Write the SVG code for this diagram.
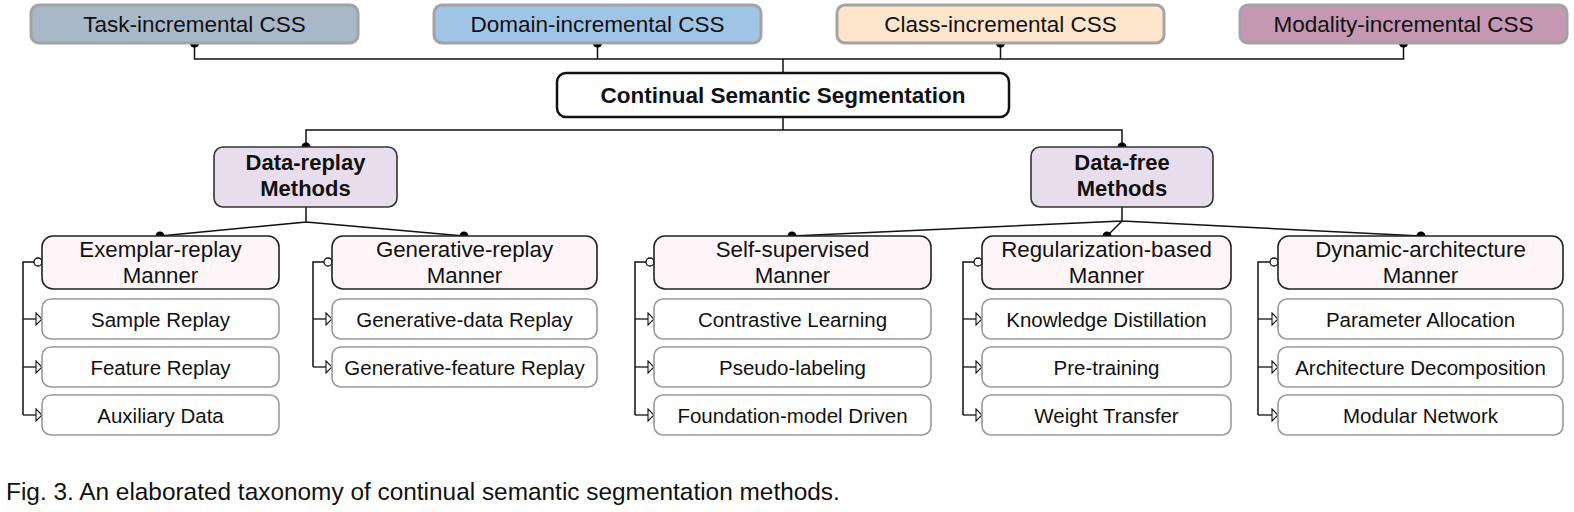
<svg xmlns="http://www.w3.org/2000/svg" width="1574" height="512" viewBox="0 0 1574 512">
<style>
text{font-family:"Liberation Sans",Arial,sans-serif;fill:#111;text-anchor:middle}
.top{stroke:#a3a3a3;stroke-width:3}
.tt{font-size:22.5px}
.title{fill:#fff;stroke:#111;stroke-width:2.5}
.tb{font-size:22px;font-weight:bold}
.meth{fill:#e8dded;stroke:#333;stroke-width:1.6}
.man{fill:#fdf5f8;stroke:#222;stroke-width:1.6}
.mt{font-size:22.3px}
.leaf{fill:#fff;stroke:#999;stroke-width:1.6}
.lt{font-size:20.5px}
.cn{fill:none;stroke:#111;stroke-width:1.5}
.arr{fill:none;stroke:#111;stroke-width:1.3;marker-end:url(#tri)}
.dot{fill:#000}
.oc{fill:#fff;stroke:#111;stroke-width:1.3}
</style>
<defs>
<marker id="tri" markerUnits="userSpaceOnUse" markerWidth="9" markerHeight="14" refX="7" refY="7" orient="auto" viewBox="0 0 9 14">
<path d="M1,1 L7,7 L1,13 Z" fill="#fff" stroke="#111" stroke-width="1.1"/>
</marker>
</defs>
<rect width="1574" height="512" fill="#fff"/>

<g id="connectors">
<path class="cn" d="M194.5,43 V59 H1403.5 V43 M597.5,43 V59 M1000.5,43 V59 M783,59 V73"/>
<path class="cn" d="M783,117 V130 M306,147 V130 H1122 V147"/>
<path class="cn" d="M306,207 V222 L160,236 M306,222 L464,236"/>
<path class="cn" d="M1122,207 V221 L792,236 M1122,221 L1107,236 M1122,221 L1421,236"/>
<circle class="dot" cx="194.5" cy="43" r="4.7"/>
<circle class="dot" cx="597.5" cy="43" r="4.7"/>
<circle class="dot" cx="1000.5" cy="43" r="4.7"/>
<circle class="dot" cx="1403.5" cy="43" r="4.7"/>
<circle class="dot" cx="306" cy="147" r="4.5"/>
<circle class="dot" cx="1122" cy="147" r="4.5"/>
<circle class="dot" cx="160" cy="236" r="4.5"/>
<circle class="dot" cx="464" cy="236" r="4.5"/>
<circle class="dot" cx="792" cy="236" r="4.5"/>
<circle class="dot" cx="1107" cy="236" r="4.5"/>
<circle class="dot" cx="1421" cy="236" r="4.5"/>
<path class="cn" d="M34,262 H23 V415"/>
<path class="arr" d="M23,319 H42"/><path class="arr" d="M23,367 H42"/><path class="arr" d="M23,415 H42"/>
<circle class="oc" cx="38" cy="262" r="4"/>
<path class="cn" d="M324,262 H313 V367"/>
<path class="arr" d="M313,319 H332"/><path class="arr" d="M313,367 H332"/>
<circle class="oc" cx="328" cy="262" r="4"/>
<path class="cn" d="M646,262 H635 V415"/>
<path class="arr" d="M635,319 H654"/><path class="arr" d="M635,367 H654"/><path class="arr" d="M635,415 H654"/>
<circle class="oc" cx="650" cy="262" r="4"/>
<path class="cn" d="M974,262 H963 V415"/>
<path class="arr" d="M963,319 H982"/><path class="arr" d="M963,367 H982"/><path class="arr" d="M963,415 H982"/>
<circle class="oc" cx="978" cy="262" r="4"/>
<path class="cn" d="M1270,262 H1258 V415"/>
<path class="arr" d="M1258,319 H1278"/><path class="arr" d="M1258,367 H1278"/><path class="arr" d="M1258,415 H1278"/>
<circle class="oc" cx="1274" cy="262" r="4"/>
</g>

<g id="task"><rect class="top" x="31" y="5" width="327" height="38" rx="8" fill="#a9b8c8"/><text class="tt" x="194.5" y="32">Task-incremental CSS</text></g>
<g id="domain"><rect class="top" x="434" y="5" width="327" height="38" rx="8" fill="#9fc4e6"/><text class="tt" x="597.5" y="32">Domain-incremental CSS</text></g>
<g id="class"><rect class="top" x="837" y="5" width="327" height="38" rx="8" fill="#fde5cb"/><text class="tt" x="1000.5" y="32">Class-incremental CSS</text></g>
<g id="modality"><rect class="top" x="1240" y="5" width="327" height="38" rx="8" fill="#c497b2"/><text class="tt" x="1403.5" y="32">Modality-incremental CSS</text></g>

<g id="css"><rect class="title" x="557" y="73" width="452" height="44" rx="9"/><text class="tb" x="783" y="103" style="font-size:22.5px">Continual Semantic Segmentation</text></g>

<g id="data-replay"><rect class="meth" x="214" y="147" width="183" height="60" rx="9"/><text class="tb" x="305.5" y="170">Data-replay</text><text class="tb" x="305.5" y="196">Methods</text></g>
<g id="data-free"><rect class="meth" x="1031" y="147" width="182" height="60" rx="9"/><text class="tb" x="1122" y="170">Data-free</text><text class="tb" x="1122" y="196">Methods</text></g>

<g id="exemplar"><rect class="man" x="42" y="236" width="237" height="53" rx="11"/><text class="mt" x="160.5" y="257">Exemplar-replay</text><text class="mt" x="160.5" y="283">Manner</text></g>
<g id="sample"><rect class="leaf" x="42" y="299" width="237" height="40" rx="9"/><text class="lt" x="160.5" y="326.5">Sample Replay</text></g>
<g id="feature"><rect class="leaf" x="42" y="347" width="237" height="40" rx="9"/><text class="lt" x="160.5" y="374.5">Feature Replay</text></g>
<g id="auxiliary"><rect class="leaf" x="42" y="395" width="237" height="40" rx="9"/><text class="lt" x="160.5" y="422.5">Auxiliary Data</text></g>

<g id="generative"><rect class="man" x="332" y="236" width="265" height="53" rx="11"/><text class="mt" x="464.5" y="257">Generative-replay</text><text class="mt" x="464.5" y="283">Manner</text></g>
<g id="gen-data"><rect class="leaf" x="332" y="299" width="265" height="40" rx="9"/><text class="lt" x="464.5" y="326.5">Generative-data Replay</text></g>
<g id="gen-feature"><rect class="leaf" x="332" y="347" width="265" height="40" rx="9"/><text class="lt" x="464.5" y="374.5">Generative-feature Replay</text></g>

<g id="self-supervised"><rect class="man" x="654" y="236" width="277" height="53" rx="11"/><text class="mt" x="792.5" y="257">Self-supervised</text><text class="mt" x="792.5" y="283">Manner</text></g>
<g id="contrastive"><rect class="leaf" x="654" y="299" width="277" height="40" rx="9"/><text class="lt" x="792.5" y="326.5">Contrastive Learning</text></g>
<g id="pseudo"><rect class="leaf" x="654" y="347" width="277" height="40" rx="9"/><text class="lt" x="792.5" y="374.5">Pseudo-labeling</text></g>
<g id="foundation"><rect class="leaf" x="654" y="395" width="277" height="40" rx="9"/><text class="lt" x="792.5" y="422.5">Foundation-model Driven</text></g>

<g id="regularization"><rect class="man" x="982" y="236" width="249" height="53" rx="11"/><text class="mt" x="1106.5" y="257">Regularization-based</text><text class="mt" x="1106.5" y="283">Manner</text></g>
<g id="kd"><rect class="leaf" x="982" y="299" width="249" height="40" rx="9"/><text class="lt" x="1106.5" y="326.5">Knowledge Distillation</text></g>
<g id="pretrain"><rect class="leaf" x="982" y="347" width="249" height="40" rx="9"/><text class="lt" x="1106.5" y="374.5">Pre-training</text></g>
<g id="weight"><rect class="leaf" x="982" y="395" width="249" height="40" rx="9"/><text class="lt" x="1106.5" y="422.5">Weight Transfer</text></g>

<g id="dynamic"><rect class="man" x="1278" y="236" width="285" height="53" rx="11"/><text class="mt" x="1420.5" y="257">Dynamic-architecture</text><text class="mt" x="1420.5" y="283">Manner</text></g>
<g id="param"><rect class="leaf" x="1278" y="299" width="285" height="40" rx="9"/><text class="lt" x="1420.5" y="326.5">Parameter Allocation</text></g>
<g id="arch"><rect class="leaf" x="1278" y="347" width="285" height="40" rx="9"/><text class="lt" x="1420.5" y="374.5">Architecture Decomposition</text></g>
<g id="modular"><rect class="leaf" x="1278" y="395" width="285" height="40" rx="9"/><text class="lt" x="1420.5" y="422.5">Modular Network</text></g>

<text x="6" y="500" style="font-size:24.4px;text-anchor:start">Fig. 3. An elaborated taxonomy of continual semantic segmentation methods.</text>
</svg>
